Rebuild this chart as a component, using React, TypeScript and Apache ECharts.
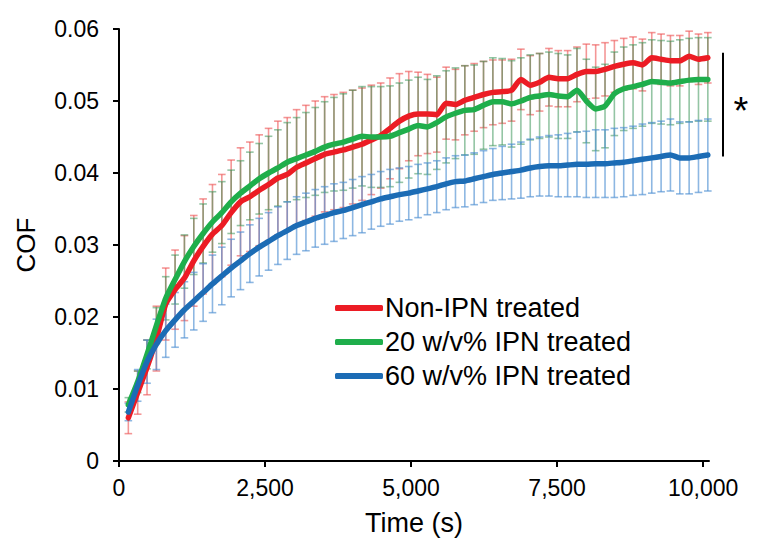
import React, { useEffect, useRef } from "react";
import * as echarts from "echarts";

const times = [160,320,480,640,800,960,1120,1280,1440,1600,1760,1920,2080,2240,2400,2560,2720,2880,3040,3200,3360,3520,3680,3840,4000,4160,4320,4480,4640,4800,4960,5120,5280,5440,5600,5760,5920,6080,6240,6400,6560,6720,6880,7040,7200,7360,7520,7680,7840,8000,8160,8320,8480,8640,8800,8960,9120,9280,9440,9600,9760,9920,10080];

const redMean = [0.0060,0.0095,0.0130,0.0170,0.0218,0.0238,0.0254,0.0278,0.0298,0.0315,
0.0327,0.0345,0.0360,0.0367,0.0376,0.0384,0.0393,0.0398,0.0408,0.0414,
0.0420,0.0426,0.0429,0.0432,0.0436,0.0440,0.0446,0.0452,0.0462,0.0472,
0.0479,0.0482,0.0482,0.0481,0.0497,0.0495,0.0501,0.0505,0.0509,0.0512,
0.0513,0.0515,0.0530,0.0522,0.0526,0.0533,0.0531,0.0531,0.0537,0.0541,
0.0541,0.0544,0.0548,0.0551,0.0553,0.0550,0.0560,0.0558,0.0556,0.0556,
0.0562,0.0558,0.0560];
const redErr = [0.0022,0.0030,0.0038,0.0045,0.0050,0.0055,0.0059,0.0063,0.0066,0.0069,
0.0071,0.0073,0.0075,0.0076,0.0077,0.0078,0.0079,0.0079,0.0080,0.0080,
0.0080,0.0080,0.0080,0.0080,0.0079,0.0078,0.0076,0.0073,0.0070,0.0066,
0.0062,0.0058,0.0055,0.0052,0.0050,0.0049,0.0048,0.0047,0.0046,0.0045,
0.0044,0.0043,0.0042,0.0041,0.0040,0.0040,0.0039,0.0039,0.0038,0.0038,
0.0037,0.0037,0.0036,0.0036,0.0036,0.0036,0.0035,0.0035,0.0035,0.0035,
0.0035,0.0035,0.0035];

const greenMean = [0.0078,0.0110,0.0148,0.0188,0.0226,0.0252,0.0277,0.0298,0.0316,0.0332,
0.0345,0.0360,0.0372,0.0382,0.0392,0.0400,0.0407,0.0415,0.0420,0.0425,
0.0430,0.0436,0.0440,0.0443,0.0447,0.0451,0.0450,0.0450,0.0451,0.0456,
0.0461,0.0466,0.0464,0.0470,0.0478,0.0483,0.0487,0.0488,0.0494,0.0499,
0.0499,0.0496,0.0500,0.0505,0.0507,0.0509,0.0507,0.0506,0.0515,0.0500,
0.0489,0.0493,0.0510,0.0517,0.0520,0.0523,0.0527,0.0526,0.0525,0.0527,
0.0529,0.0530,0.0530];
const greenErr = [0.0010,0.0015,0.0020,0.0025,0.0030,0.0034,0.0037,0.0039,0.0041,0.0042,
0.0043,0.0044,0.0045,0.0047,0.0049,0.0051,0.0053,0.0055,0.0057,0.0059,
0.0061,0.0063,0.0065,0.0067,0.0068,0.0069,0.0070,0.0070,0.0070,0.0069,
0.0068,0.0067,0.0066,0.0065,0.0064,0.0063,0.0062,0.0062,0.0061,0.0061,
0.0060,0.0060,0.0060,0.0059,0.0059,0.0059,0.0059,0.0058,0.0058,0.0058,
0.0058,0.0058,0.0058,0.0058,0.0058,0.0058,0.0058,0.0058,0.0058,0.0058,
0.0058,0.0058,0.0058];

const blueMean = [0.0068,0.0105,0.0138,0.0162,0.0181,0.0196,0.0210,0.0222,0.0234,0.0246,
0.0257,0.0268,0.0278,0.0288,0.0297,0.0305,0.0313,0.0320,0.0327,0.0332,
0.0337,0.0341,0.0345,0.0348,0.0352,0.0356,0.0360,0.0364,0.0367,0.0370,
0.0372,0.0375,0.0378,0.0381,0.0385,0.0388,0.0389,0.0392,0.0395,0.0398,
0.0400,0.0402,0.0404,0.0407,0.0409,0.0410,0.0410,0.0411,0.0412,0.0412,
0.0413,0.0413,0.0414,0.0415,0.0417,0.0419,0.0421,0.0423,0.0425,0.0421,
0.0421,0.0423,0.0425];
const blueErr = [0.0012,0.0022,0.0030,0.0035,0.0037,0.0038,0.0039,0.0040,0.0040,0.0040,
0.0040,0.0040,0.0040,0.0040,0.0040,0.0040,0.0040,0.0040,0.0040,0.0040,
0.0040,0.0040,0.0040,0.0039,0.0039,0.0039,0.0038,0.0038,0.0038,0.0037,
0.0037,0.0037,0.0036,0.0036,0.0036,0.0036,0.0036,0.0036,0.0036,0.0036,
0.0037,0.0038,0.0039,0.0040,0.0041,0.0042,0.0043,0.0044,0.0045,0.0046,
0.0047,0.0047,0.0048,0.0048,0.0048,0.0049,0.0049,0.0049,0.0050,0.0050,
0.0050,0.0050,0.0050];

const seriesNames = ["Non-IPN treated", "20 w/v% IPN treated", "60 w/v% IPN treated"];
const xTickValues = [0, 2500, 5000, 7500, 10000];
const yTickValues = [0, 0.01, 0.02, 0.03, 0.04, 0.05, 0.06];
const sigRange = [0.0423, 0.0567];

const FONT = "'Liberation Sans', Arial, sans-serif";
const lineColors = ["#EC1C24", "#1FAE4B", "#1C6CB5"];
const barColors = ["rgba(236,80,80,0.6)", "rgba(60,150,90,0.55)", "rgba(80,145,210,0.65)"];

function errSeries(mean: number[], err: number[], color: string, z: number) {
  return {
    type: "custom",
    z,
    silent: true,
    data: times.map((t, i) => [t, mean[i], err[i]]),
    encode: { x: 0, y: 1 },
    renderItem: (params: any, api: any) => {
      const x = api.value(0);
      const y = api.value(1);
      const e = api.value(2);
      const top = api.coord([x, y + e]);
      const bot = api.coord([x, y - e]);
      const hw = 3.8;
      const style = { stroke: color, lineWidth: 1.6 };
      return {
        type: "group",
        children: [
          { type: "line", shape: { x1: top[0], y1: top[1], x2: bot[0], y2: bot[1] }, style },
          { type: "line", shape: { x1: top[0] - hw, y1: top[1], x2: top[0] + hw, y2: top[1] }, style },
          { type: "line", shape: { x1: bot[0] - hw, y1: bot[1], x2: bot[0] + hw, y2: bot[1] }, style },
        ],
      };
    },
  };
}

function lineSeries(name: string, mean: number[], color: string, z: number) {
  return {
    type: "line",
    name,
    z,
    data: times.map((t, i) => [t, mean[i]]),
    symbol: "none",
    smooth: 0.2,
    lineStyle: { color, width: 5.5, cap: "round", join: "round" },
    itemStyle: { color },
  };
}

export default function App() {
  const ref = useRef<HTMLDivElement>(null);
  useEffect(() => {
    if (!ref.current) return;
    const chart = echarts.init(ref.current, null, { renderer: "svg" });
    const option: any = {
      animation: false,
      textStyle: { fontFamily: FONT },
      grid: { left: 119, top: 29, right: 52, bottom: 95 },
      legend: {
        orient: "vertical",
        left: 330,
        top: 288,
        itemWidth: 48,
        itemHeight: 6,
        itemGap: 4,
        icon: "roundRect",
        data: seriesNames,
        textStyle: { fontSize: 27, color: "#000", fontFamily: FONT, lineHeight: 30, padding: [0, 0, 0, -3] },
      },
      xAxis: {
        type: "value",
        min: 0,
        max: 10100,
        interval: 2500,
        name: "Time (s)",
        nameLocation: "middle",
        nameGap: 48,
        nameTextStyle: { fontSize: 27, color: "#000", fontFamily: FONT },
        axisLine: { show: true, lineStyle: { color: "#000", width: 2 } },
        axisTick: { show: true, length: 6, lineStyle: { color: "#000", width: 2 }, customValues: xTickValues },
        axisLabel: {
          fontSize: 23,
          color: "#000",
          fontFamily: FONT,
          margin: 15,
          customValues: xTickValues,
          formatter: (v: number) => v.toLocaleString("en-US"),
        },
        splitLine: { show: false },
      },
      yAxis: {
        type: "value",
        min: 0,
        max: 0.06,
        interval: 0.01,
        name: "COF",
        nameLocation: "middle",
        nameGap: 80,
        nameRotate: 90,
        nameTextStyle: { fontSize: 26, color: "#000", fontFamily: FONT },
        axisLine: { show: true, lineStyle: { color: "#000", width: 2 } },
        axisTick: { show: true, length: 6, lineStyle: { color: "#000", width: 2 }, customValues: yTickValues },
        axisLabel: {
          fontSize: 23,
          color: "#000",
          fontFamily: FONT,
          margin: 20,
          customValues: yTickValues,
          formatter: (v: number) => (v === 0 ? "0" : v.toFixed(2)),
        },
        splitLine: { show: false },
      },
      series: [
        errSeries(redMean, redErr, barColors[0], 1),
        errSeries(greenMean, greenErr, barColors[1], 1),
        errSeries(blueMean, blueErr, barColors[2], 1),
        lineSeries(seriesNames[0], redMean, lineColors[0], 3),
        lineSeries(seriesNames[1], greenMean, lineColors[1], 4),
        lineSeries(seriesNames[2], blueMean, lineColors[2], 5),
      ],
    };
    chart.setOption(option);
    const pTop = chart.convertToPixel({ gridIndex: 0 }, [10000, sigRange[1]]) as number[];
    const pBot = chart.convertToPixel({ gridIndex: 0 }, [10000, sigRange[0]]) as number[];
    const bx = 761 - 52 + 14;
    chart.setOption({
      graphic: [
        { type: "line", shape: { x1: bx, y1: pTop[1], x2: bx, y2: pBot[1] }, style: { stroke: "#000", lineWidth: 2 } },
        {
          type: "text",
          x: bx + 18,
          y: (pTop[1] + pBot[1]) / 2 + 6,
          style: { text: "*", fontSize: 38, fill: "#000", fontFamily: FONT, textAlign: "center", textVerticalAlign: "middle" },
        },
      ],
    });
    return () => chart.dispose();
  }, []);
  return <div ref={ref} style={{ position: "fixed", left: 0, top: 0, width: 761, height: 556, background: "#fff" }} />;
}
